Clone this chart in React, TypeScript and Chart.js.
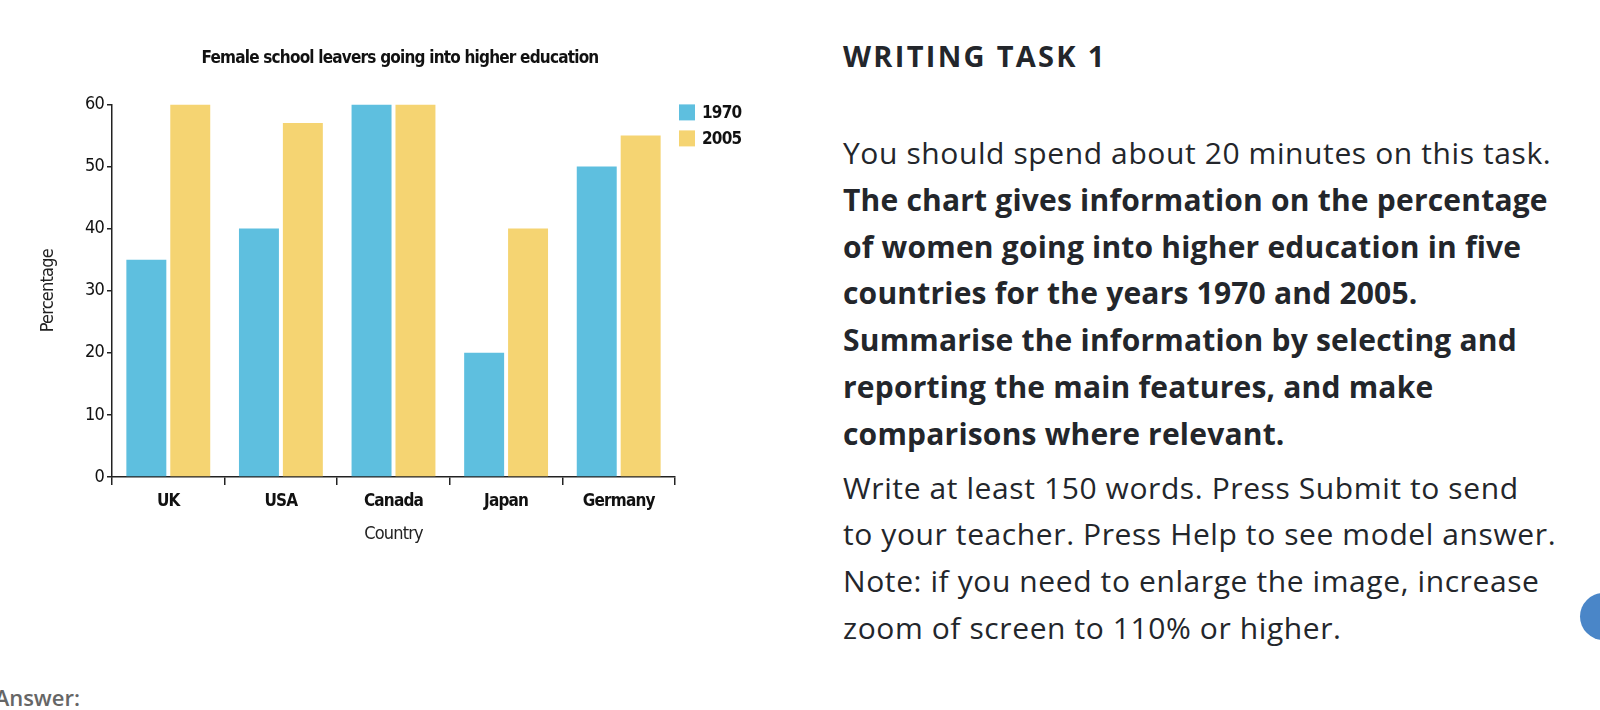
import React, { useEffect, useRef } from "react";
import { Chart, registerables } from "chart.js";

Chart.register(...registerables);

const chartTitle = "Female school leavers going into higher education";
const categories = ["UK", "USA", "Canada", "Japan", "Germany"];
const seriesLabels = ["1970", "2005"];
const values1970 = [35, 40, 60, 20, 50];
const values2005 = [60, 57, 60, 40, 55];
const seriesColors = ["#5EBFDF", "#F5D472"];
const yAxisTitle = "Percentage";
const xAxisTitle = "Country";
const yMin = 0;
const yMax = 60;
const yStep = 10;

const headingText = "WRITING TASK 1";
const taskLines: { text: string; bold: boolean; gap?: boolean }[] = [
  { text: "You should spend about 20 minutes on this task.", bold: false },
  { text: "The chart gives information on the percentage", bold: true },
  { text: "of women going into higher education in five", bold: true },
  { text: "countries for the years 1970 and 2005.", bold: true },
  { text: "Summarise the information by selecting and", bold: true },
  { text: "reporting the main features, and make", bold: true },
  { text: "comparisons where relevant.", bold: true },
  { text: "Write at least 150 words. Press Submit to send", bold: false, gap: true },
  { text: "to your teacher. Press Help to see model answer.", bold: false },
  { text: "Note: if you need to enlarge the image, increase", bold: false },
  { text: "zoom of screen to 110% or higher.", bold: false },
];
const answerLabel = "Answer:";

const NARROW = "'DejaVu Sans Condensed', 'Liberation Sans Narrow', 'Liberation Sans', Arial, sans-serif";
const BODY = "'Open Sans', sans-serif";
const CHART_LETTER_SPACING = "-0.8px";

const tightText = {
  id: "tightText",
  beforeLayout(chart: any) {
    chart.ctx.letterSpacing = CHART_LETTER_SPACING;
  },
  beforeDraw(chart: any) {
    chart.ctx.letterSpacing = CHART_LETTER_SPACING;
  },
};

const sideLegend = {
  id: "sideLegend",
  afterDraw(chart: any) {
    const { ctx, chartArea } = chart;
    const x0 = chartArea.right + 4;
    const y0 = chartArea.top;
    ctx.save();
    chart.data.datasets.forEach((ds: any, i: number) => {
      const y = y0 + i * 26;
      ctx.fillStyle = ds.backgroundColor;
      ctx.fillRect(x0, y, 16, 16);
      ctx.fillStyle = "#111";
      ctx.font = `bold 17px ${NARROW}`;
      ctx.textBaseline = "middle";
      ctx.textAlign = "left";
      ctx.fillText(ds.label, x0 + 23, y + 9);
    });
    ctx.restore();
  },
};

function BarChart() {
  const ref = useRef<HTMLCanvasElement | null>(null);
  useEffect(() => {
    if (!ref.current) return;
    const chart = new Chart(ref.current, {
      type: "bar",
      data: {
        labels: categories,
        datasets: [
          { label: seriesLabels[0], data: values1970, backgroundColor: seriesColors[0] },
          { label: seriesLabels[1], data: values2005, backgroundColor: seriesColors[1] },
        ],
      },
      options: {
        responsive: false,
        animation: false,
        devicePixelRatio: 1,
        layout: { padding: { left: 0, right: 0, top: 0, bottom: 0 } },
        datasets: { bar: { categoryPercentage: 0.78, barPercentage: 0.91 } },
        plugins: {
          legend: { display: false },
          tooltip: { enabled: false },
          title: {
            display: true,
            text: chartTitle,
            color: "#111",
            font: { family: NARROW, size: 17, weight: "bold", lineHeight: 1.2 },
            padding: { top: 48, bottom: 36 },
          },
        },
        scales: {
          x: {
            offset: true,
            afterFit: (s: any) => {
              s.height = 83;
            },
            grid: {
              offset: true,
              drawOnChartArea: false,
              drawTicks: true,
              tickLength: 8,
              color: "#222",
              lineWidth: 1.5,
            },
            border: { display: true, color: "#222", width: 1.5 },
            ticks: { color: "#111", font: { family: NARROW, size: 17, weight: "bold" }, padding: 6 },
            title: {
              display: true,
              text: xAxisTitle,
              color: "#222",
              font: { family: NARROW, size: 18, lineHeight: 1.2 },
              padding: { top: 0, bottom: 15 },
            },
          },
          y: {
            min: yMin,
            max: yMax,
            afterFit: (s: any) => {
              s.width = 112;
            },
            ticks: {
              stepSize: yStep,
              color: "#111",
              font: { family: NARROW, size: 18 },
              padding: 3,
            },
            grid: {
              drawOnChartArea: false,
              drawTicks: true,
              tickLength: 5,
              color: "#222",
              lineWidth: 1.5,
            },
            border: { display: true, color: "#222", width: 1.5 },
            title: {
              display: true,
              text: yAxisTitle,
              color: "#222",
              font: { family: NARROW, size: 18, lineHeight: 1.2 },
              padding: { top: 38, bottom: 0 },
            },
          },
          legendSpace: {
            type: "linear",
            position: "right",
            display: true,
            min: yMin,
            max: yMax,
            afterFit: (s: any) => {
              s.width = 125;
            },
            ticks: { display: false },
            grid: { display: false, drawTicks: false },
            border: { display: false },
            title: { display: false },
          },
        },
      },
      plugins: [tightText, sideLegend],
    } as any);
    return () => chart.destroy();
  }, []);
  return (
    <canvas
      ref={ref}
      width={800}
      height={560}
      style={{ position: "absolute", left: 0, top: 0, width: 800, height: 560 }}
    />
  );
}

export default function App() {
  return (
    <div
      style={{
        position: "absolute",
        left: 0,
        top: 0,
        width: 1600,
        height: 710,
        overflow: "hidden",
        background: "#fff",
      }}
    >
      <BarChart />
      <div
        style={{
          position: "absolute",
          left: 843,
          top: 36,
          fontFamily: BODY,
          fontWeight: 700,
          fontSize: 29,
          letterSpacing: "2.3px",
          lineHeight: "40px",
          color: "#23262b",
          whiteSpace: "nowrap",
        }}
      >
        {headingText}
      </div>
      <div
        style={{
          position: "absolute",
          left: 843,
          top: 130,
          fontFamily: BODY,
          fontSize: 30,
          lineHeight: "46.8px",
          color: "#23262b",
          whiteSpace: "nowrap",
        }}
      >
        {taskLines.map((l, i) => (
          <div
            key={i}
            style={{
              fontWeight: l.bold ? 700 : 400,
              letterSpacing: l.bold ? "0.2px" : "0.6px",
              marginTop: l.gap ? 7 : 0,
            }}
          >
            {l.text}
          </div>
        ))}
      </div>
      <div
        style={{
          position: "absolute",
          left: 1580,
          top: 593,
          width: 47,
          height: 47,
          borderRadius: "50%",
          background: "#4A86C8",
        }}
      />
      <div
        style={{
          position: "absolute",
          right: 1520,
          top: 683,
          fontFamily: "'Open Sans', sans-serif",
          fontWeight: 600,
          fontSize: 22,
          lineHeight: "28px",
          color: "#666",
          whiteSpace: "nowrap",
        }}
      >
        {answerLabel}
      </div>
    </div>
  );
}
